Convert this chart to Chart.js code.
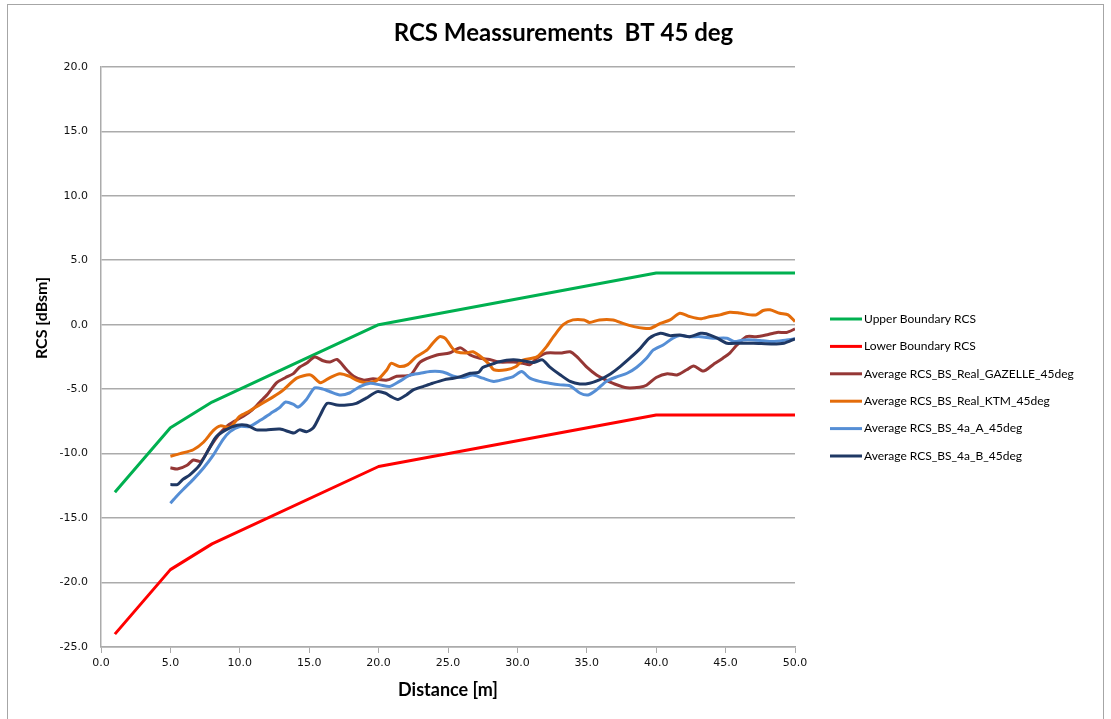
<!DOCTYPE html>
<html><head><meta charset="utf-8">
<script src="https://cdn.jsdelivr.net/npm/chart.js@4.4.1/dist/chart.umd.min.js"></script>
<style>html,body{margin:0;padding:0;background:#fff;}canvas{display:block;}</style>
</head><body>
<canvas id="c" width="1111" height="719"></canvas>
<script>
// ---------- data ----------
const chartTitle = 'RCS Meassurements  BT 45 deg';
const xAxisTitle = 'Distance [m]';
const yAxisTitle = 'RCS [dBsm]';
const seriesNames = [
  'Upper Boundary RCS',
  'Lower Boundary RCS',
  'Average RCS_BS_Real_GAZELLE_45deg',
  'Average RCS_BS_Real_KTM_45deg',
  'Average RCS_BS_4a_A_45deg',
  'Average RCS_BS_4a_B_45deg'
];
const xTickValues = [0, 5, 10, 15, 20, 25, 30, 35, 40, 45, 50];
const yTickValues = [-25, -20, -15, -10, -5, 0, 5, 10, 15, 20];

const boundaryX = [1, 5, 8, 20, 40, 50];
const upperY = [-13, -8, -6, 0, 4, 4];
const lowerY = [-24, -19, -17, -11, -7, -7];

const gazelleX = [5.0, 5.5, 6.2, 6.65, 7.2, 7.85, 8.5, 9.05, 9.6, 10.25, 10.9, 11.45, 12.0, 12.66, 13.3, 13.86, 14.3, 14.8, 15.4, 16.0, 16.5, 17.0, 17.7, 18.2, 18.9, 19.6, 20.6, 21.3, 22.3, 23.0, 24.2, 25.1, 25.9, 26.6, 27.3, 28.0, 28.7, 29.7, 30.4, 30.9, 31.4, 32.1, 33.1, 33.8, 34.3, 35.0, 35.7, 36.4, 37.0, 37.9, 38.8, 39.3, 40.0, 40.8, 41.5, 42.2, 42.7, 43.4, 44.1, 44.8, 45.3, 45.8, 46.5, 47.2, 47.9, 48.7, 49.4, 50.0];
const gazelleY = [-11.1, -11.2, -10.9, -10.5, -10.6, -9.5, -8.5, -7.9, -7.5, -7.1, -6.6, -6.0, -5.4, -4.5, -4.1, -3.8, -3.3, -3.0, -2.5, -2.8, -2.9, -2.7, -3.5, -4.0, -4.3, -4.2, -4.3, -4.0, -3.9, -2.9, -2.35, -2.2, -1.8, -2.35, -2.6, -2.7, -2.9, -2.9, -3.0, -3.1, -2.6, -2.2, -2.2, -2.1, -2.5, -3.3, -3.9, -4.3, -4.6, -4.9, -4.85, -4.7, -4.1, -3.8, -3.9, -3.5, -3.2, -3.6, -3.1, -2.6, -2.2, -1.6, -0.93, -0.93, -0.8, -0.6, -0.6, -0.33];

const ktmX = [5.0, 5.7, 6.65, 7.4, 8.1, 8.6, 9.3, 10.0, 10.7, 11.45, 12.4, 13.1, 14.1, 15.1, 15.8, 16.5, 17.2, 17.9, 18.4, 19.1, 19.9, 20.6, 20.9, 21.5, 22.1, 22.7, 23.5, 23.9, 24.4, 24.8, 25.3, 25.6, 26.3, 26.8, 27.5, 28.0, 28.3, 29.2, 29.9, 30.4, 31.4, 32.1, 32.6, 33.3, 34.0, 34.8, 35.2, 35.9, 36.9, 37.6, 38.4, 39.1, 39.6, 40.3, 41.0, 41.7, 42.4, 43.2, 43.9, 44.6, 45.3, 46.0, 46.8, 47.2, 47.7, 48.2, 48.9, 49.5, 50.0];
const ktmY = [-10.2, -10.0, -9.7, -9.1, -8.2, -7.85, -7.95, -7.1, -6.7, -6.2, -5.6, -5.1, -4.15, -3.9, -4.5, -4.1, -3.8, -4.0, -4.3, -4.5, -4.3, -3.5, -3.0, -3.25, -3.1, -2.5, -1.96, -1.44, -0.93, -1.06, -1.8, -2.1, -2.2, -2.1, -2.6, -3.1, -3.5, -3.5, -3.25, -2.75, -2.5, -1.7, -0.93, 0.0, 0.37, 0.37, 0.17, 0.37, 0.37, 0.1, -0.15, -0.28, -0.28, 0.1, 0.37, 0.89, 0.63, 0.45, 0.63, 0.76, 0.97, 0.9, 0.76, 0.76, 1.1, 1.15, 0.89, 0.76, 0.24];

const bs4aAX = [5.0, 5.45, 5.9, 6.65, 7.4, 8.1, 8.8, 9.3, 10.0, 10.7, 11.5, 12.2, 12.9, 13.3, 13.9, 14.2, 14.8, 15.4, 16.0, 16.5, 17.2, 17.9, 18.65, 19.4, 20.1, 20.8, 21.5, 22.3, 23.0, 23.7, 24.4, 24.9, 25.4, 26.1, 26.8, 27.5, 28.3, 29.0, 29.7, 30.3, 30.9, 31.6, 32.3, 33.1, 33.8, 34.5, 35.1, 35.7, 36.4, 37.2, 37.9, 38.6, 39.3, 39.8, 40.5, 41.2, 41.7, 42.4, 43.2, 44.1, 45.1, 45.6, 46.3, 47.0, 47.7, 48.4, 49.4, 50.0];
const bs4aAY = [-13.85, -13.3, -12.8, -12.0, -11.1, -10.1, -8.9, -8.3, -7.9, -7.9, -7.4, -6.9, -6.4, -6.0, -6.2, -6.4, -5.8, -4.9, -5.0, -5.2, -5.45, -5.3, -4.8, -4.55, -4.67, -4.8, -4.4, -3.9, -3.77, -3.64, -3.64, -3.77, -4.0, -4.1, -3.9, -4.15, -4.4, -4.24, -4.03, -3.64, -4.15, -4.4, -4.54, -4.67, -4.75, -5.3, -5.45, -5.06, -4.4, -4.03, -3.77, -3.3, -2.6, -1.96, -1.57, -1.05, -0.85, -0.93, -0.93, -1.05, -1.05, -1.31, -1.18, -1.18, -1.25, -1.31, -1.18, -1.1];

const bs4aBX = [5.0, 5.5, 5.9, 6.4, 7.1, 7.85, 8.3, 9.0, 9.8, 10.5, 11.2, 11.9, 12.9, 13.9, 14.3, 14.8, 15.3, 15.8, 16.3, 17.0, 17.7, 18.4, 19.1, 19.9, 20.5, 20.9, 21.4, 22.0, 22.5, 23.2, 23.9, 24.7, 25.4, 25.9, 26.6, 27.2, 27.5, 28.0, 28.7, 29.7, 30.4, 31.2, 31.8, 32.3, 33.1, 33.8, 34.5, 35.2, 35.9, 36.7, 37.4, 38.1, 38.8, 39.5, 40.3, 41.0, 41.7, 42.4, 43.2, 43.6, 44.4, 45.1, 46.0, 47.0, 48.4, 49.2, 50.0];
const bs4aBY = [-12.4, -12.4, -12.0, -11.65, -10.9, -9.5, -8.7, -8.16, -7.8, -7.8, -8.16, -8.16, -8.1, -8.4, -8.16, -8.3, -8.0, -7.0, -6.1, -6.23, -6.23, -6.1, -5.7, -5.19, -5.32, -5.58, -5.8, -5.45, -5.06, -4.8, -4.54, -4.28, -4.15, -4.03, -3.77, -3.7, -3.33, -3.12, -2.87, -2.73, -2.8, -2.93, -2.73, -3.25, -3.9, -4.4, -4.6, -4.54, -4.28, -3.82, -3.25, -2.6, -1.9, -1.05, -0.67, -0.85, -0.8, -0.93, -0.67, -0.7, -1.05, -1.44, -1.44, -1.44, -1.5, -1.44, -1.1];

const seriesColors = ['#00B050', '#FF0000', '#953735', '#E46C0A', '#558ED5', '#1F3864'];

// ---------- build ----------
function pts(xs, ys) { return xs.map((x, i) => ({x: x, y: ys[i]})); }
const seriesX = [boundaryX, boundaryX, gazelleX, ktmX, bs4aAX, bs4aBX];
const seriesY = [upperY, lowerY, gazelleY, ktmY, bs4aAY, bs4aBY];

const datasets = seriesNames.map((name, i) => ({
  label: name,
  data: pts(seriesX[i], seriesY[i]),
  borderColor: seriesColors[i],
  backgroundColor: seriesColors[i],
  borderWidth: 3,
  pointRadius: 0,
  tension: i < 2 ? 0 : 0.25,
  fill: false,
  order: seriesNames.length - i,
  borderJoinStyle: 'round'
}));

const FONT_UI = "Lato, 'Open Sans', sans-serif";
const TICK_FONT = "'DejaVu Sans', sans-serif";
const GRID = '#ABABAB';

const framePlugin = {
  id: 'frame',
  beforeDraw(chart) {
    const ctx = chart.ctx;
    ctx.save();
    ctx.fillStyle = '#fff';
    ctx.fillRect(0, 0, chart.width, chart.height);
    ctx.strokeStyle = '#A6A6A6';
    ctx.lineWidth = 1;
    ctx.strokeRect(7.5, 4.5, 1096, 740);
    ctx.restore();
  }
};

const extrasPlugin = {
  id: 'extras',
  afterDraw(chart) {
    const ctx = chart.ctx;
    ctx.save();
    // y axis title
    ctx.translate(42, 318);
    ctx.rotate(-Math.PI / 2);
    ctx.font = "bold 16px " + FONT_UI;
    ctx.fillStyle = '#000';
    ctx.textAlign = 'center';
    ctx.textBaseline = 'middle';
    ctx.fillText(yAxisTitle, 0, 0);
    ctx.restore();
    // legend
    ctx.save();
    ctx.font = "12px " + FONT_UI;
    ctx.textAlign = 'left';
    ctx.textBaseline = 'middle';
    chart.data.datasets.forEach((ds, i) => {
      const y = 319 + i * 27.4;
      ctx.strokeStyle = ds.borderColor;
      ctx.lineWidth = 3;
      ctx.beginPath();
      ctx.moveTo(830, y);
      ctx.lineTo(862, y);
      ctx.stroke();
      ctx.fillStyle = '#000';
      ctx.fillText(ds.label, 864, y);
    });
    ctx.restore();
  }
};

new Chart(document.getElementById('c'), {
  type: 'line',
  data: {datasets: datasets},
  plugins: [framePlugin, extrasPlugin],
  options: {
    responsive: false,
    animation: false,
    layout: {padding: {left: 16, right: 0, top: 0, bottom: 0}},
    plugins: {
      legend: {display: false},
      tooltip: {enabled: false},
      title: {
        display: true,
        text: chartTitle,
        color: '#000',
        font: {family: FONT_UI, size: 24, weight: 'bold'},
        padding: {top: 19, bottom: 19}
      }
    },
    scales: {
      x: {
        type: 'linear',
        min: 0, max: 50,
        afterBuildTicks(scale) { scale.ticks = xTickValues.map(v => ({value: v})); },
        afterFit(scale) { scale.height = 72; },
        grid: {drawOnChartArea: false, drawTicks: true, tickLength: 6, color: GRID, lineWidth: 1},
        border: {display: true, color: GRID, width: 1.5},
        ticks: {
          padding: 4,
          color: '#111',
          font: {family: TICK_FONT, size: 11},
          maxRotation: 0,
          callback: v => Number(v).toFixed(1)
        },
        title: {
          display: true,
          text: xAxisTitle,
          color: '#000',
          font: {family: FONT_UI, size: 18, weight: 'bold'},
          padding: {top: 0, bottom: 18}
        }
      },
      y: {
        type: 'linear',
        position: 'left',
        min: -25, max: 20,
        afterBuildTicks(scale) { scale.ticks = yTickValues.map(v => ({value: v})); },
        afterFit(scale) { scale.width = 85; },
        grid: {drawTicks: false, color: GRID, lineWidth: 1.5},
        border: {display: true, color: GRID, width: 1.5},
        ticks: {
          padding: 13,
          color: '#111',
          font: {family: TICK_FONT, size: 11},
          callback: v => Number(v).toFixed(1)
        }
      },
      spacer: {
        type: 'linear',
        position: 'right',
        min: 0, max: 1,
        display: true,
        afterFit(scale) { scale.width = 316; },
        grid: {display: false},
        border: {display: false},
        ticks: {display: false}
      }
    }
  }
});
</script>
</body></html>
